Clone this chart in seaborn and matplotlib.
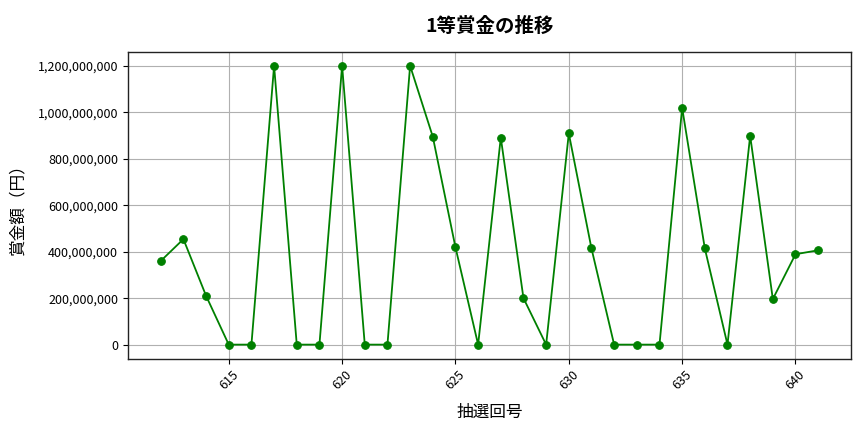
import matplotlib
matplotlib.use("Agg")
import matplotlib.pyplot as plt
import matplotlib.ticker as mticker
import seaborn as sns
import pandas as pd

draws = list(range(612, 642))
prizes = [360000000, 454000000, 210000000, 0, 0, 1200000000, 0, 0, 1200000000, 0,
          0, 1200000000, 895000000, 419000000, 0, 891000000, 200000000, 0, 909000000, 414000000,
          0, 0, 0, 1019000000, 414000000, 0, 899000000, 196000000, 389000000, 406000000]

title = "1等賞金の推移"
xlabel = "抽選回号"
ylabel = "賞金額（円）"

df = pd.DataFrame({"draw": draws, "prize": prizes})

sns.set_style("ticks")
plt.rcParams['font.family'] = ['Noto Sans CJK JP', 'DejaVu Sans']
plt.rcParams['text.color'] = 'black'
plt.rcParams['axes.labelcolor'] = 'black'
plt.rcParams['xtick.color'] = 'black'
plt.rcParams['ytick.color'] = 'black'

fig, ax = plt.subplots(figsize=(8.64, 4.32), dpi=100)
sns.lineplot(data=df, x="draw", y="prize", marker="o", color="green",
             markersize=5.5, markeredgecolor="green", linewidth=1.3, ax=ax)
ax.set_title(title, fontsize=14, fontweight="bold", pad=14, color="black")
ax.set_xlabel(xlabel, fontsize=12, labelpad=8)
ax.set_ylabel(ylabel, fontsize=12, labelpad=8)
ax.yaxis.set_major_formatter(mticker.FuncFormatter(lambda v, p: f"{int(v):,}"))
ax.tick_params(axis="x", labelrotation=45, labelsize=9)
ax.tick_params(axis="y", labelsize=9)
ax.grid(True, color="#b0b0b0", linewidth=0.8)
for s in ax.spines.values():
    s.set_color("#222222")
    s.set_linewidth(1.0)
plt.subplots_adjust(left=0.148, right=0.985, top=0.88, bottom=0.17)
fig.savefig("out.png", dpi=100)
